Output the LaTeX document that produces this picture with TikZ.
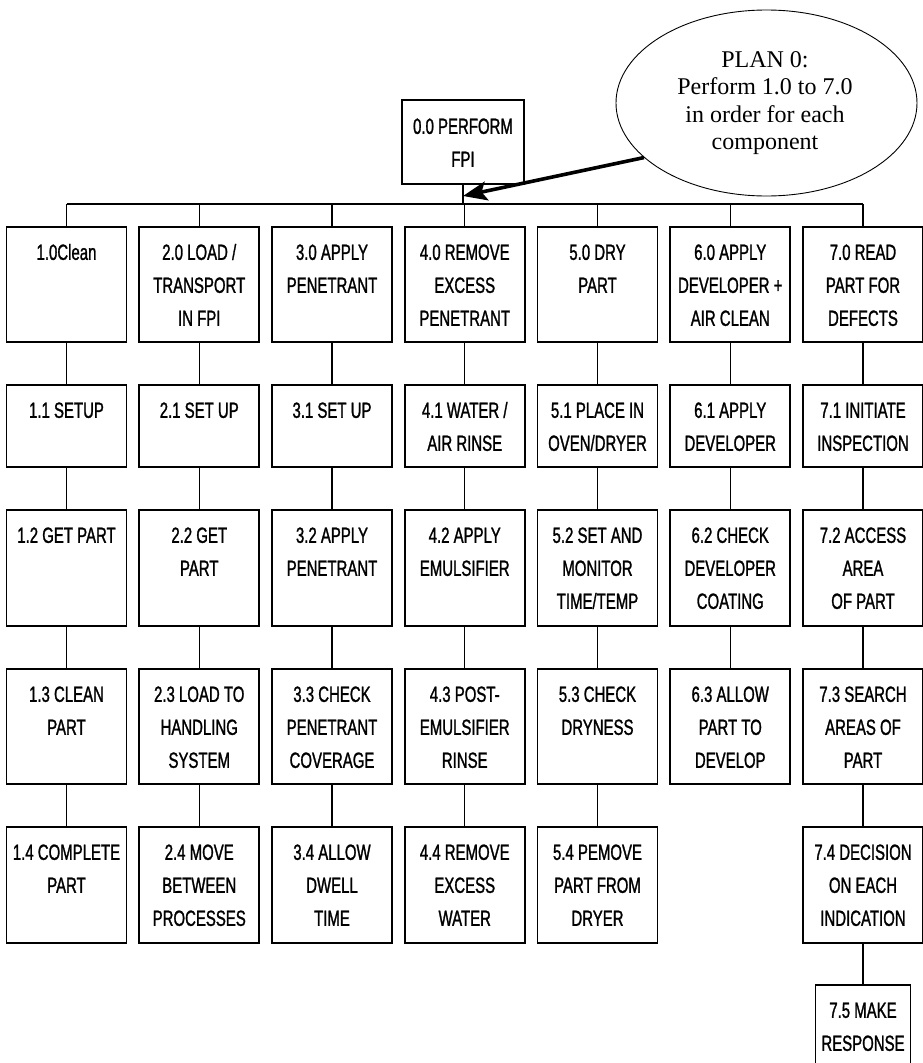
\documentclass[tikz,border=0pt]{standalone}
\usepackage{fontspec}
\setmainfont{Liberation Serif}
\newfontfamily\boxfont[FakeStretch=0.68,FakeBold=1.2]{Liberation Sans}
\usetikzlibrary{shapes.geometric,arrows.meta}
\newcommand{\mybox}[2]{\parbox[c][#1pt][t]{120pt}{\centering\rule{0pt}{33pt}#2}}
\begin{document}
\begin{tikzpicture}[x=1pt,y=-1pt,
  tbox/.style={draw, line width=1.7pt, inner sep=0pt, anchor=north,
    font=\boxfont\fontsize{22}{33}\selectfont},
  conn/.style={line width=1.3pt},
  plannode/.style={ellipse, draw, line width=0.9pt, inner sep=0pt,
    minimum width=301pt, minimum height=186pt},
  plantextstyle/.style={inner sep=0pt, align=center,
    font=\fontsize{24}{27.5}\selectfont}]
\useasboundingbox (0,0) rectangle (922,1063);

% top node and plan
\node[tbox] (top) at (463,99) {\parbox[c][84pt][t]{122pt}{\centering\rule{0pt}{34pt}0.0 PERFORM\\FPI}};
\node[plannode] (plan) at (766.5,103) {};
\node[plantextstyle] (plantext) at (765,103) {PLAN 0:\\Perform 1.0 to 7.0\\in order for each\\component};
\coordinate (tip) at (463,196);
\draw[line width=3.6pt, -{Stealth[length=24pt,width=19pt,inset=5pt]}] (plan.204) -- (tip);

% bus
\coordinate (busL) at (66.5,204);
\coordinate (busR) at (863,204);
\draw[conn] (busL) -- (busR);
\draw[conn] (top.south) -- (top.south |- busL);

% column 1
\node[tbox] (a0) at (66.5,226) {\mybox{115}{1.0Clean}};
\node[tbox] (a1) at (66.5,384) {\mybox{82}{1.1 SETUP}};
\node[tbox] (a2) at (66.5,509) {\mybox{116}{1.2 GET PART}};
\node[tbox] (a3) at (66.5,668) {\mybox{115}{1.3 CLEAN\\PART}};
\node[tbox] (a4) at (66.5,826) {\mybox{116}{1.4 COMPLETE\\PART}};

% column 2
\node[tbox] (b0) at (199.25,226) {\mybox{115}{2.0 LOAD /\\TRANSPORT\\IN FPI}};
\node[tbox] (b1) at (199.25,384) {\mybox{82}{2.1 SET UP}};
\node[tbox] (b2) at (199.25,509) {\mybox{116}{2.2 GET\\PART}};
\node[tbox] (b3) at (199.25,668) {\mybox{115}{2.3 LOAD TO\\HANDLING\\SYSTEM}};
\node[tbox] (b4) at (199.25,826) {\mybox{116}{2.4 MOVE\\BETWEEN\\PROCESSES}};

% column 3
\node[tbox] (c0) at (332,226) {\mybox{115}{3.0 APPLY\\PENETRANT}};
\node[tbox] (c1) at (332,384) {\mybox{82}{3.1 SET UP}};
\node[tbox] (c2) at (332,509) {\mybox{116}{3.2 APPLY\\PENETRANT}};
\node[tbox] (c3) at (332,668) {\mybox{115}{3.3 CHECK\\PENETRANT\\COVERAGE}};
\node[tbox] (c4) at (332,826) {\mybox{116}{3.4 ALLOW\\DWELL\\TIME}};

% column 4
\node[tbox] (d0) at (464.75,226) {\mybox{115}{4.0 REMOVE\\EXCESS\\PENETRANT}};
\node[tbox] (d1) at (464.75,384) {\mybox{82}{4.1 WATER /\\AIR RINSE}};
\node[tbox] (d2) at (464.75,509) {\mybox{116}{4.2 APPLY\\EMULSIFIER}};
\node[tbox] (d3) at (464.75,668) {\mybox{115}{4.3 POST-\\EMULSIFIER\\RINSE}};
\node[tbox] (d4) at (464.75,826) {\mybox{116}{4.4 REMOVE\\EXCESS\\WATER}};

% column 5
\node[tbox] (e0) at (597.5,226) {\mybox{115}{5.0 DRY\\PART}};
\node[tbox] (e1) at (597.5,384) {\mybox{82}{5.1 PLACE IN\\OVEN/DRYER}};
\node[tbox] (e2) at (597.5,509) {\mybox{116}{5.2 SET AND\\MONITOR\\TIME/TEMP}};
\node[tbox] (e3) at (597.5,668) {\mybox{115}{5.3 CHECK\\DRYNESS}};
\node[tbox] (e4) at (597.5,826) {\mybox{116}{5.4 PEMOVE\\PART FROM\\DRYER}};

% column 6
\node[tbox] (f0) at (730.25,226) {\mybox{115}{6.0 APPLY\\DEVELOPER +\\AIR CLEAN}};
\node[tbox] (f1) at (730.25,384) {\mybox{82}{6.1 APPLY\\DEVELOPER}};
\node[tbox] (f2) at (730.25,509) {\mybox{116}{6.2 CHECK\\DEVELOPER\\COATING}};
\node[tbox] (f3) at (730.25,668) {\mybox{115}{6.3 ALLOW\\PART TO\\DEVELOP}};

% column 7
\node[tbox] (g0) at (863,226) {\mybox{115}{7.0 READ\\PART FOR\\DEFECTS}};
\node[tbox] (g1) at (863,384) {\mybox{82}{7.1 INITIATE\\INSPECTION}};
\node[tbox] (g2) at (863,509) {\mybox{116}{7.2 ACCESS\\AREA\\OF PART}};
\node[tbox] (g3) at (863,668) {\mybox{115}{7.3 SEARCH\\AREAS OF\\PART}};
\node[tbox] (g4) at (863,826) {\mybox{116}{7.4 DECISION\\ON EACH\\INDICATION}};
\node[tbox] (g5) at (863,984) {\parbox[c][82pt][t]{95pt}{\centering\rule{0pt}{33pt}7.5 MAKE\\RESPONSE}};

% connectors from bus
\foreach \n in {a0,b0,c0,d0,e0,f0,g0}
  \draw[conn] (\n.north) -- (\n.north |- busL);

% connectors within columns
\foreach \u/\v in {a0/a1,a1/a2,a2/a3,a3/a4,
                   b0/b1,b1/b2,b2/b3,b3/b4,
                   c0/c1,c1/c2,c2/c3,c3/c4,
                   d0/d1,d1/d2,d2/d3,d3/d4,
                   e0/e1,e1/e2,e2/e3,e3/e4,
                   f0/f1,f1/f2,f2/f3,
                   g0/g1,g1/g2,g2/g3,g3/g4,g4/g5}
  \draw[conn] (\u) -- (\v);
\end{tikzpicture}
\end{document}
